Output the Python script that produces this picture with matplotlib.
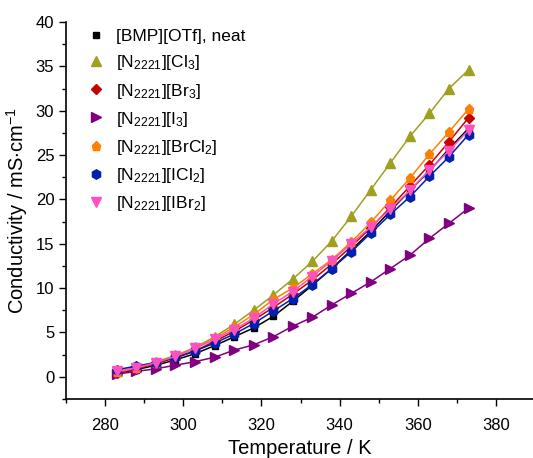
import matplotlib
matplotlib.use("Agg")
import matplotlib.pyplot as plt
from matplotlib.lines import Line2D
from matplotlib.ticker import MultipleLocator

plt.rcParams["font.family"] = ["Liberation Sans", "DejaVu Sans"]
plt.rcParams["mathtext.fontset"] = "custom"
plt.rcParams["mathtext.rm"] = "Liberation Sans"

temperature = [283, 288, 293, 298, 303, 308, 313, 318, 323, 328, 333, 338, 343, 348, 353, 358, 363, 368, 373]

bmp_otf = [0.4, 0.8, 1.3, 1.9, 2.6, 3.5, 4.5, 5.5, 6.8, 8.5, 10.3, 12.2, 14.3, 16.4, 18.7, 21.0, 23.2, 25.7, 28.0]
n_cl3 = [0.6, 1.1, 1.7, 2.4, 3.3, 4.5, 5.9, 7.5, 9.2, 11.0, 13.0, 15.3, 18.1, 21.1, 24.1, 27.1, 29.7, 32.5, 34.6]
n_br3 = [0.4, 0.9, 1.5, 2.1, 2.9, 4.0, 5.1, 6.4, 7.8, 9.3, 10.9, 12.7, 14.7, 16.8, 19.1, 21.5, 23.9, 26.5, 29.2]
n_i3 = [0.3, 0.6, 0.9, 1.3, 1.7, 2.2, 3.0, 3.6, 4.5, 5.7, 6.7, 8.1, 9.4, 10.7, 12.2, 13.7, 15.6, 17.3, 19.0]
n_brcl2 = [0.5, 1.0, 1.6, 2.3, 3.2, 4.3, 5.6, 7.0, 8.7, 10.0, 11.6, 13.2, 15.2, 17.4, 19.9, 22.4, 25.1, 27.6, 30.2]
n_icl2 = [0.8, 1.2, 1.6, 2.2, 2.9, 3.8, 4.8, 6.0, 7.4, 8.8, 10.4, 12.2, 14.1, 16.2, 18.3, 20.3, 22.6, 24.8, 27.3]
n_ibr2 = [0.6, 1.0, 1.6, 2.3, 3.2, 4.2, 5.3, 6.6, 8.2, 9.6, 11.3, 13.1, 15.0, 16.9, 18.9, 21.0, 23.3, 25.5, 27.8]

labels = [
    "[BMP][OTf], neat",
    r"[N$\mathregular{_{2221}}$][Cl$\mathregular{_3}$]",
    r"[N$\mathregular{_{2221}}$][Br$\mathregular{_3}$]",
    r"[N$\mathregular{_{2221}}$][I$\mathregular{_3}$]",
    r"[N$\mathregular{_{2221}}$][BrCl$\mathregular{_2}$]",
    r"[N$\mathregular{_{2221}}$][ICl$\mathregular{_2}$]",
    r"[N$\mathregular{_{2221}}$][IBr$\mathregular{_2}$]",
]
series = [bmp_otf, n_cl3, n_br3, n_i3, n_brcl2, n_icl2, n_ibr2]
colors = ["#000000", "#a0a020", "#c80000", "#800080", "#ff8000", "#0020b0", "#ff50c0"]
markers = ["s", "^", "D", ">", "p", "h", "v"]
sizes = [5, 7.2, 5.5, 7.2, 6.8, 6.8, 7.2]

fig = plt.figure(figsize=(5.33, 4.58), dpi=100)
ax = fig.add_axes([0.124, 0.129, 0.876, 0.823])

handles = []
for vals, lab, col, mk, ms in zip(series, labels, colors, markers, sizes):
    ax.plot(temperature, vals, color=col, marker=mk, markersize=ms, linewidth=1.1)
    handles.append(Line2D([], [], color=col, marker=mk, markersize=ms, linestyle="none", label=lab))

ax.set_xlim(270, 389.5)
ax.set_ylim(-2.5, 40)
ax.xaxis.set_major_locator(MultipleLocator(20))
ax.xaxis.set_minor_locator(MultipleLocator(10))
ax.yaxis.set_major_locator(MultipleLocator(5))
ax.yaxis.set_minor_locator(MultipleLocator(2.5))
ax.tick_params(which="major", direction="out", length=5, width=1, labelsize=12, color="black")
ax.tick_params(axis="x", which="major", pad=9)
ax.tick_params(which="minor", direction="out", length=3, width=1)
ax.spines["top"].set_visible(False)
ax.spines["right"].set_visible(False)
ax.spines["left"].set_linewidth(1.2)
ax.spines["bottom"].set_linewidth(1.2)
ax.set_xlabel("Temperature / K", fontsize=14.5, labelpad=4)
ax.set_ylabel(r"Conductivity / mS$\cdot$cm$^{-1}$", fontsize=14.5, labelpad=4)

ax.legend(handles=handles, loc="upper left", bbox_to_anchor=(0.008, 1.022), frameon=False,
          fontsize=12.5, handletextpad=0.55, labelspacing=0.52, handlelength=1.2)

fig.savefig("out.png", dpi=100)
